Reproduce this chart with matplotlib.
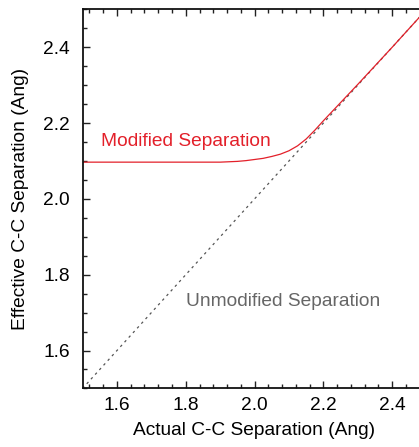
import matplotlib
matplotlib.use("Agg")
import matplotlib.pyplot as plt
from matplotlib.ticker import MultipleLocator

# actual C-C separation (Ang) and the effective separation used by the potential
actual_sep = [1.5, 1.6, 1.7, 1.8, 1.9, 1.95, 1.975, 2.0, 2.025, 2.05, 2.075,
              2.1, 2.125, 2.15, 2.175, 2.2, 2.225, 2.25, 2.3, 2.35, 2.4, 2.45, 2.5]
effective_sep = [2.097, 2.097, 2.097, 2.097, 2.097, 2.099, 2.101, 2.104, 2.107,
                 2.112, 2.118, 2.127, 2.140, 2.158, 2.181, 2.206, 2.230, 2.254,
                 2.302, 2.351, 2.400, 2.450, 2.500]
diag = [1.5, 2.5]

plt.rcParams['font.family'] = ['Liberation Sans', 'DejaVu Sans']
fs = 13.8

fig = plt.figure(figsize=(4.19, 4.47), dpi=100)
ax = fig.add_axes([0.197, 0.131, 0.821, 0.848])

ax.plot(diag, diag, color='#555555', linewidth=0.9, linestyle=(0, (2, 3)))
ax.plot(actual_sep, effective_sep, color='#e3202a', linewidth=0.9)

ax.text(1.553, 2.152, "Modified Separation", color='#e3202a', fontsize=fs,
        va='center', ha='left')
ax.text(1.802, 1.73, "Unmodified Separation", color='#666666', fontsize=fs,
        va='center', ha='left')

ax.set_xlim(1.5, 2.5)
ax.set_ylim(1.5, 2.5)
ax.xaxis.set_major_locator(MultipleLocator(0.2))
ax.xaxis.set_minor_locator(MultipleLocator(0.04))
ax.yaxis.set_major_locator(MultipleLocator(0.2))
ax.yaxis.set_minor_locator(MultipleLocator(0.05))
ax.tick_params(which='both', direction='in', top=True, right=True,
               labelsize=fs, width=1.0, color='#222222')
ax.tick_params(which='major', length=5)
ax.tick_params(which='minor', length=3)
ax.tick_params(axis='x', which='major', pad=6)
ax.tick_params(axis='y', which='major', pad=9)
for s in ax.spines.values():
    s.set_linewidth(1.3)
    s.set_color('#111111')

ax.set_xlabel("Actual C-C Separation (Ang)", fontsize=fs, labelpad=6)
ax.set_ylabel("Effective C-C Separation (Ang)", fontsize=fs, labelpad=10)

fig.savefig("out.png", dpi=100)
